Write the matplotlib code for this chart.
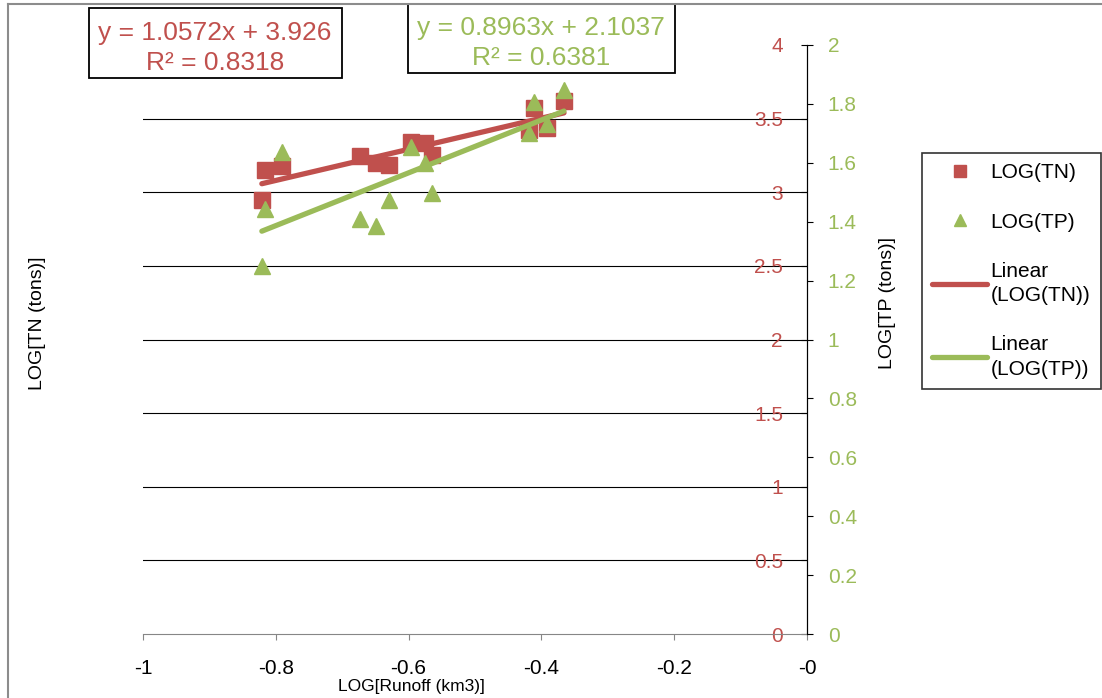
import numpy as np
import matplotlib.pyplot as plt
from matplotlib.lines import Line2D
from matplotlib.patches import Rectangle
from matplotlib.ticker import FuncFormatter

plt.rcParams['font.family'] = ['Liberation Sans', 'DejaVu Sans']

# Data
log_runoff = [-0.821, -0.816, -0.791, -0.673, -0.649, -0.630, -0.596,
              -0.575, -0.565, -0.419, -0.411, -0.392, -0.366]
log_tn = [2.947, 3.151, 3.178, 3.243, 3.199, 3.188, 3.341,
          3.334, 3.256, 3.426, 3.572, 3.436, 3.623]
log_tp = [1.250, 1.443, 1.637, 1.409, 1.385, 1.474, 1.654,
          1.600, 1.497, 1.701, 1.806, 1.732, 1.847]

# trendline coefficients shown on the chart
tn_slope, tn_intercept, tn_r2 = 1.0572, 3.926, 0.8318
tp_slope, tp_intercept, tp_r2 = 0.8963, 2.1037, 0.6381

red = '#C0504D'
green = '#9BBB59'
W, H = 1102, 698

fig = plt.figure(figsize=(W / 100, H / 100), dpi=100)
ax = fig.add_axes([143 / W, 1 - 634 / H, 664 / W, 589 / H])

fmt = FuncFormatter(lambda v, p: '%g' % round(v, 3))

# TN series (primary axis)
tn_pts, = ax.plot(log_runoff, log_tn, 's', color=red, ms=11.5, mec=red, zorder=3)
xfit = np.array([min(log_runoff), max(log_runoff)])
tn_line, = ax.plot(xfit, tn_slope * xfit + tn_intercept, color=red, lw=3.8,
                   solid_capstyle='round', zorder=4)

ax.set_xlim(-1, 0)
ax.set_ylim(0, 4)
ax.set_xticks(np.arange(-1, 0.01, 0.2))
ax.set_yticks(np.arange(0, 4.01, 0.5))
ax.xaxis.set_major_formatter(fmt)
ax.yaxis.set_major_formatter(fmt)

ax.spines['top'].set_visible(False)
ax.spines['right'].set_visible(False)
ax.spines['left'].set_position(('data', 0))
ax.spines['left'].set_color('black')
ax.spines['bottom'].set_color('#868686')
ax.tick_params(axis='x', direction='out', length=4.3, color='#868686',
               labelsize=15, pad=14)
ax.tick_params(axis='y', direction='out', length=4.3, color='black',
               labelcolor=red, labelsize=15, pad=13)

ax.yaxis.grid(True, color='black', lw=0.8)
ax.set_axisbelow(True)
gl = ax.get_ygridlines()
gl[0].set_visible(False)
gl[-1].set_visible(False)

# TP series (secondary axis)
ax2 = ax.twinx()
tp_pts, = ax2.plot(log_runoff, log_tp, '^', color=green, ms=11.5, mec=green, zorder=3)
tp_line, = ax2.plot(xfit, tp_slope * xfit + tp_intercept, color=green, lw=3.8,
                    solid_capstyle='round', zorder=4)
ax2.set_ylim(0, 2)
ax2.set_yticks(np.arange(0, 2.01, 0.2))
ax2.yaxis.set_major_formatter(fmt)
for s in ['top', 'left', 'bottom']:
    ax2.spines[s].set_visible(False)
ax2.spines['right'].set_color('black')
ax2.tick_params(axis='y', direction='out', length=4, color='black',
                labelcolor=green, labelsize=15, pad=11)

# axis titles
fig.text(411 / W, 1 - 686 / H, 'LOG[Runoff (km3)]', fontsize=12.5,
         ha='center', va='center')
fig.text(37 / W, 1 - 323 / H, 'LOG[TN (tons)]', fontsize=14, rotation=90,
         ha='center', va='center')
fig.text(887 / W, 1 - 303 / H, 'LOG[TP (tons)]', fontsize=14, rotation=90,
         ha='center', va='center')

# equation boxes
fig.add_artist(Rectangle((89 / W, 1 - 78 / H), 253 / W, 70 / H, transform=fig.transFigure,
                         fc='white', ec='black', lw=1.3))
fig.text(215 / W, 1 - 48 / H, 'y = %gx + %g\nR² = %g' % (tn_slope, tn_intercept, tn_r2),
         color=red, fontsize=19, ha='center', va='center', ma='center', linespacing=1.32)
fig.add_artist(Rectangle((408 / W, 1 - 73 / H), 267 / W, 69 / H, transform=fig.transFigure,
                         fc='white', ec='black', lw=1.3))
fig.text(541 / W, 1 - 43 / H, 'y = %gx + %g\nR² = %g' % (tp_slope, tp_intercept, tp_r2),
         color=green, fontsize=19, ha='center', va='center', ma='center', linespacing=1.32)

# legend
leg = fig.legend([tn_pts, tp_pts, tn_line, tp_line],
                 ['LOG(TN)', 'LOG(TP)', 'Linear\n(LOG(TN))', 'Linear\n(LOG(TP))'],
                 loc='upper left', bbox_to_anchor=(922 / W, 1 - 153 / H),
                 bbox_transform=fig.transFigure, fontsize=15, frameon=True,
                 fancybox=False, edgecolor='black', labelspacing=1.45,
                 handlelength=2.6, handletextpad=0.2, borderpad=0.5,
                 markerscale=0.75, borderaxespad=0)
leg.get_frame().set_linewidth(1.2)
for t in leg.get_texts():
    t.set_linespacing(1.35)

# chart area border
fig.add_artist(Line2D([8 / W, 8 / W], [0, 1 - 4 / H], color='#8c8c8c', lw=1.5,
                      transform=fig.transFigure))
fig.add_artist(Line2D([8 / W, 1], [1 - 4 / H, 1 - 4 / H], color='#8c8c8c', lw=1.5,
                      transform=fig.transFigure))

fig.savefig('out.png', dpi=100)
